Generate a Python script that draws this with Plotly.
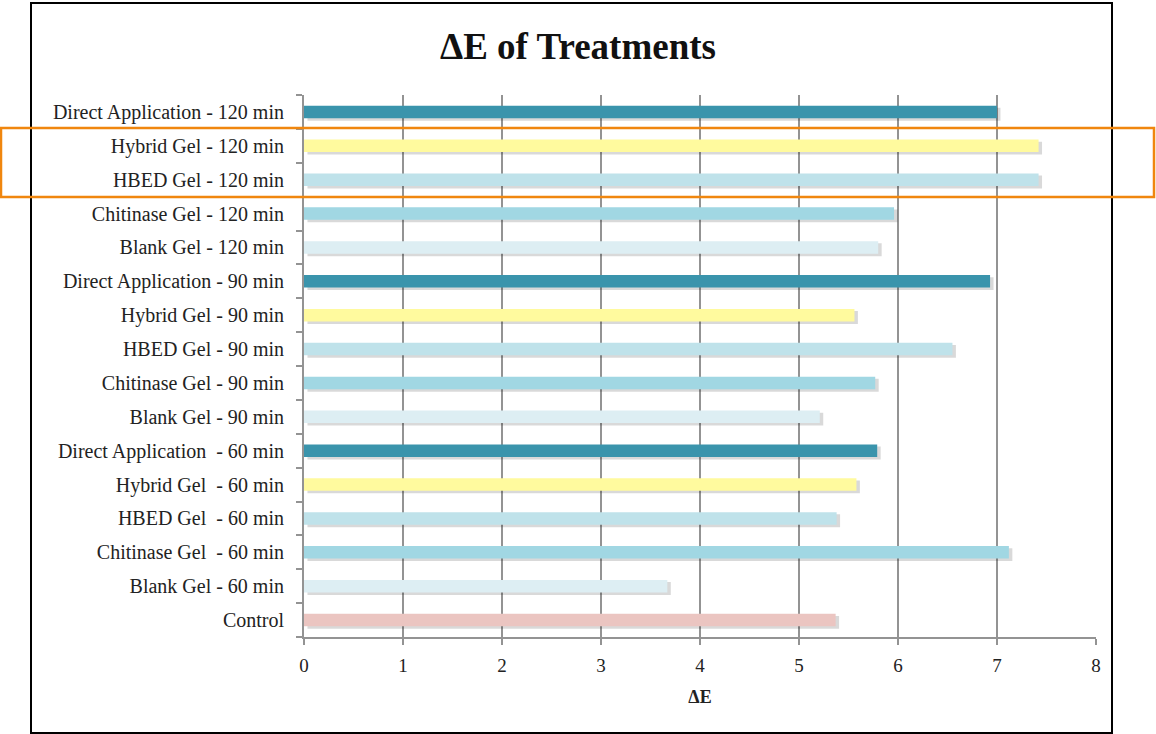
import plotly.graph_objects as go

categories = [
    "Control",
    "Blank Gel - 60 min",
    "Chitinase Gel\u00a0 - 60 min",
    "HBED Gel\u00a0 - 60 min",
    "Hybrid Gel\u00a0 - 60 min",
    "Direct Application\u00a0 - 60 min",
    "Blank Gel - 90 min",
    "Chitinase Gel - 90 min",
    "HBED Gel - 90 min",
    "Hybrid Gel - 90 min",
    "Direct Application - 90 min",
    "Blank Gel - 120 min",
    "Chitinase Gel - 120 min",
    "HBED Gel - 120 min",
    "Hybrid Gel - 120 min",
    "Direct Application - 120 min",
]
delta_e = [5.37, 3.67, 7.12, 5.38, 5.58, 5.79,
           5.21, 5.77, 6.55, 5.56, 6.93,
           5.80, 5.96, 7.42, 7.42, 7.00]
bar_colors = ["#EBC5C1", "#DDEEF3", "#A1D7E3", "#BFE2EA", "#FFFA9E", "#3A94AC",
              "#DDEEF3", "#A1D7E3", "#BFE2EA", "#FFFA9E", "#3A94AC",
              "#DDEEF3", "#A1D7E3", "#BFE2EA", "#FFFA9E", "#3A94AC"]
x_ticks = [0, 1, 2, 3, 4, 5, 6, 7, 8]

font_family = "Liberation Serif, DejaVu Serif, serif"

W, H = 1156, 734
l, r, t, b = 304, 60, 95, 97
pw, ph = W - l - r, H - t - b


def px_x(x):
    return (x - l) / pw


def px_y(y):
    return (H - b - y) / ph


fig = go.Figure()
# soft shadow under each bar
fig.add_trace(go.Bar(
    y=categories, x=delta_e, orientation="h", base=0.035,
    width=0.38, offset=-0.26,
    marker=dict(color="rgba(0,0,0,0.15)", line=dict(width=0)),
    hoverinfo="skip", showlegend=False,
))
fig.add_trace(go.Bar(
    y=categories, x=delta_e, orientation="h",
    width=0.37, offset=-0.185,
    marker=dict(color=bar_colors, line=dict(width=0)),
    showlegend=False,
))

fig.update_layout(
    width=W, height=H,
    barmode="overlay",
    paper_bgcolor="white", plot_bgcolor="white",
    margin=dict(l=l, r=r, t=t, b=b),
    font=dict(family=font_family, color="#222222", size=20),
    title=dict(text="<b>ΔE of Treatments</b>", x=0.5, xanchor="center",
               xref="container", y=0.937, yanchor="middle",
               font=dict(size=37, color="#111111", family=font_family)),
    xaxis=dict(
        range=[0, 8], tickvals=x_ticks, ticktext=[str(v) for v in x_ticks],
        showgrid=True, gridcolor="#939393", gridwidth=2,
        showline=True, linecolor="#939393", linewidth=2,
        ticks="outside", ticklen=6, tickcolor="#939393", tickwidth=2,
        zeroline=False,
        title=dict(text="<b>ΔE</b>", font=dict(size=18), standoff=16),
        tickfont=dict(size=19), ticklabelstandoff=4,
    ),
    yaxis=dict(
        type="category", categoryorder="array", categoryarray=categories,
        showline=True, linecolor="#939393", linewidth=2,
        ticks="outside", tickson="boundaries", ticklen=6,
        tickcolor="#939393", tickwidth=2,
        showgrid=False, tickfont=dict(size=20), ticklabelstandoff=14,
    ),
    shapes=[
        dict(type="rect", xref="paper", yref="paper",
             x0=px_x(31), x1=px_x(1112), y0=px_y(733), y1=px_y(3),
             line=dict(color="black", width=2)),
        dict(type="rect", xref="paper", yref="paper",
             x0=px_x(1), x1=px_x(1154), y0=px_y(197), y1=px_y(128),
             line=dict(color="#F0860E", width=2.5)),
    ],
)

fig.write_html(
    "out.html",
    config={"displayModeBar": False},
    post_script="document.body.style.margin='0px';document.body.style.padding='0px';",
)
